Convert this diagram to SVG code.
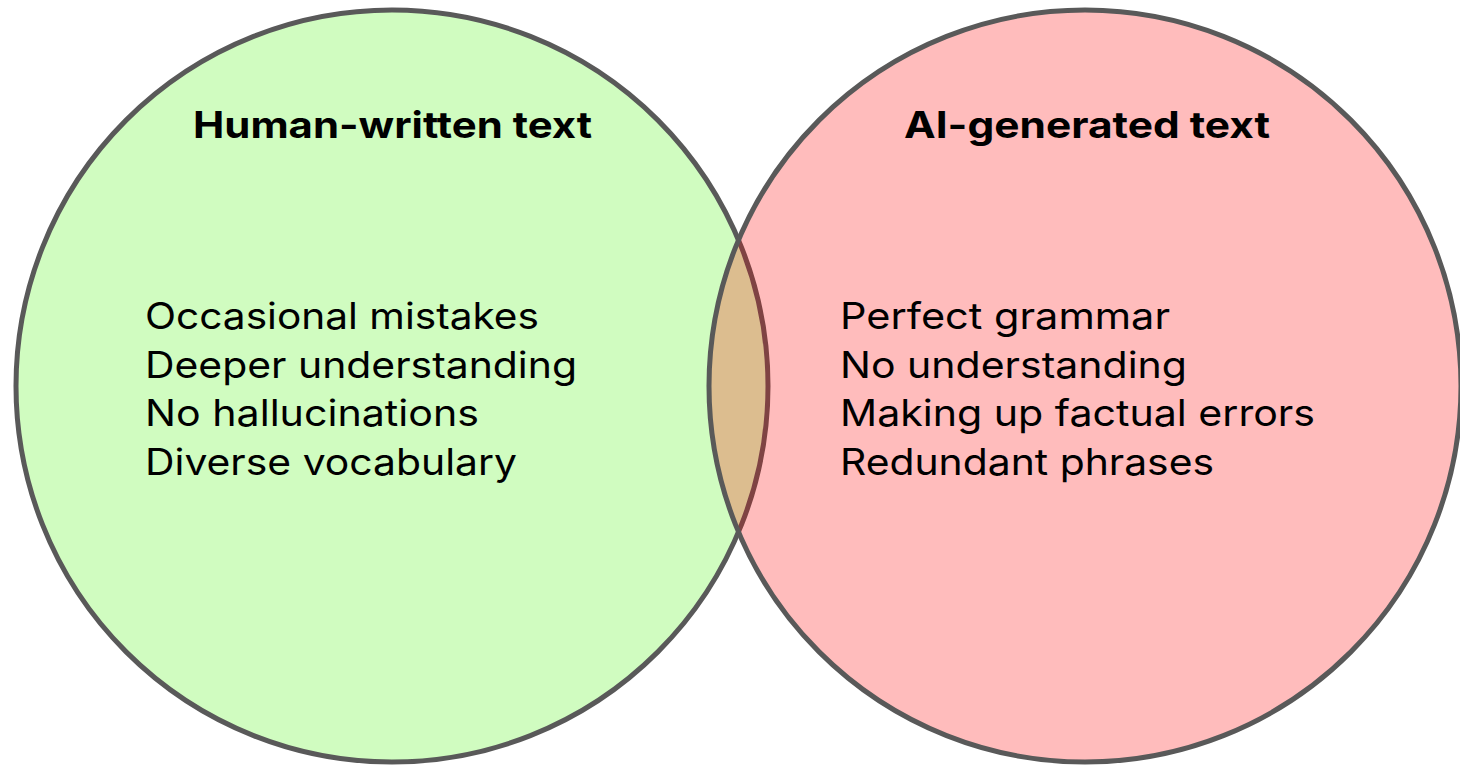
<svg xmlns="http://www.w3.org/2000/svg" width="1460" height="768" viewBox="0 0 1460 768">
  <style>
    .ring { stroke: #595959; stroke-width: 5; }
    .title { font-family: Inter, "Noto Sans", "Liberation Sans", sans-serif; font-weight: 700; font-size: 37px; fill: #000; }
    .item { font-family: Inter, "Noto Sans", "Liberation Sans", sans-serif; font-weight: 400; font-size: 37px; fill: #000; }
  </style>
  <defs>
    <clipPath id="rightDisc">
      <circle cx="1085" cy="386" r="376"/>
    </clipPath>
  </defs>

  <!-- Human-written set -->
  <g id="human">
    <circle class="ring" cx="392" cy="386" r="376" fill="#d0fcc0"/>
  </g>

  <!-- AI-generated set, with the overlap tinted -->
  <g id="ai">
    <circle cx="1085" cy="386" r="376" fill="#ffbcbc"/>
    <g clip-path="url(#rightDisc)">
      <circle cx="392" cy="386" r="376" fill="#dcbd8f"/>
      <circle cx="392" cy="386" r="376" fill="none" stroke="#7f4343" stroke-width="5"/>
    </g>
    <circle class="ring" cx="1085" cy="386" r="376" fill="none"/>
  </g>

  <g id="human-labels">
    <text class="title" x="193" y="138" textLength="399" lengthAdjust="spacingAndGlyphs">Human-written text</text>
    <text class="item" x="145" y="329" textLength="394" lengthAdjust="spacingAndGlyphs">Occasional mistakes</text>
    <text class="item" x="145" y="378" textLength="432" lengthAdjust="spacingAndGlyphs">Deeper understanding</text>
    <text class="item" x="145" y="426" textLength="334" lengthAdjust="spacingAndGlyphs">No hallucinations</text>
    <text class="item" x="145" y="475" textLength="372" lengthAdjust="spacingAndGlyphs">Diverse vocabulary</text>
  </g>

  <g id="ai-labels">
    <text class="title" x="904" y="138" textLength="366" lengthAdjust="spacingAndGlyphs">AI-generated text</text>
    <text class="item" x="840" y="329" textLength="330" lengthAdjust="spacingAndGlyphs">Perfect grammar</text>
    <text class="item" x="840" y="378" textLength="347" lengthAdjust="spacingAndGlyphs">No understanding</text>
    <text class="item" x="840" y="426" textLength="475" lengthAdjust="spacingAndGlyphs">Making up factual errors</text>
    <text class="item" x="840" y="475" textLength="374" lengthAdjust="spacingAndGlyphs">Redundant phrases</text>
  </g>
</svg>
